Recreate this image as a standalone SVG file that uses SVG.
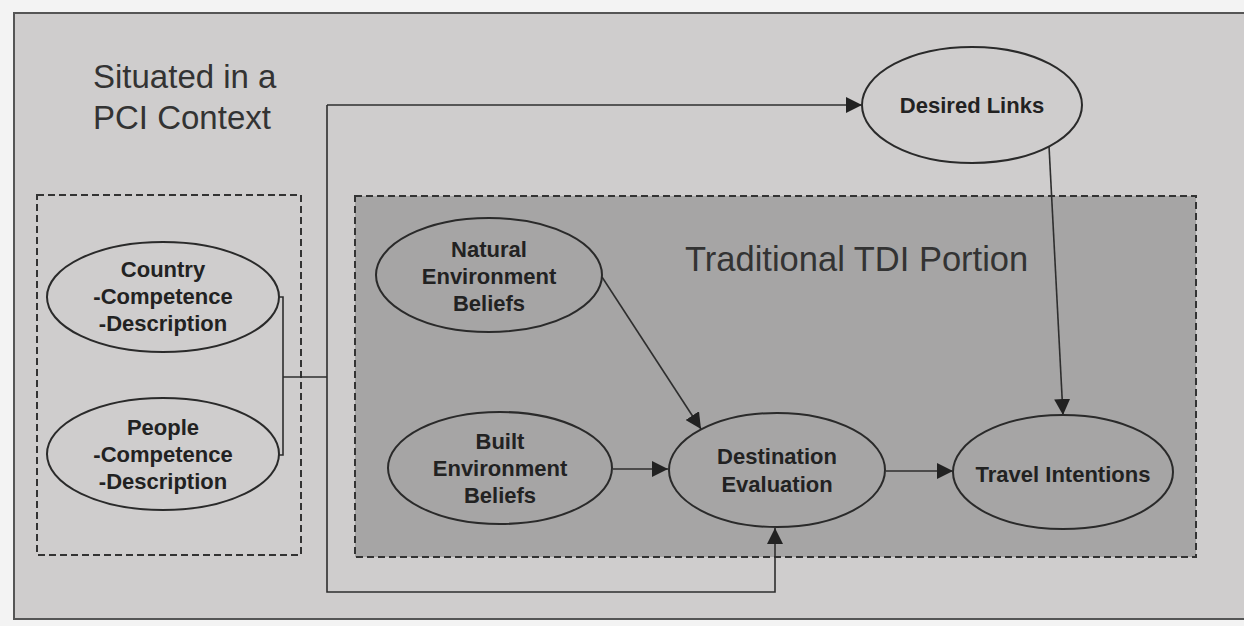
<svg xmlns="http://www.w3.org/2000/svg" width="1244" height="626" viewBox="0 0 1244 626">
  <defs>
    <marker id="arrow" viewBox="0 0 16 16" refX="16" refY="8" markerWidth="16" markerHeight="16" markerUnits="userSpaceOnUse" orient="auto">
      <path d="M0,0 L16,8 L0,16 Z" fill="#222"/>
    </marker>
    <style>
      .node { fill: none; stroke: #2a2a2a; stroke-width: 2; }
      .lbl { font-family: "Liberation Sans", Arial, sans-serif; font-weight: bold; font-size: 22px; fill: #222; text-anchor: middle; }
      .title { font-family: "Liberation Sans", Arial, sans-serif; font-size: 33px; fill: #333; }
      .edge { fill: none; stroke: #2e2e2e; stroke-width: 1.6; }
      .group { stroke: #333; stroke-width: 2; stroke-dasharray: 7 4; }
    </style>
  </defs>

  <!-- page and outer frame -->
  <rect x="0" y="0" width="1244" height="626" fill="#f3f3f3"/>
  <rect x="14" y="13" width="1240" height="606" fill="#cfcdcd" stroke="#555" stroke-width="2"/>

  <!-- grouping frames -->
  <rect id="pci-group" class="group" x="37" y="195" width="264" height="360" fill="none"/>
  <rect id="tdi-group" class="group" x="355" y="196" width="841" height="361" fill="#a6a5a5"/>

  <text class="title" x="93" y="88">Situated in a</text>
  <text class="title" x="93" y="129">PCI Context</text>
  <text class="title" x="685" y="271" style="font-size:34.5px">Traditional TDI Portion</text>

  <!-- connectors -->
  <g id="connectors">
    <polyline class="edge" points="279,297 283,297 283,455 279,455"/>
    <line class="edge" x1="283" y1="377" x2="327" y2="377"/>
    <polyline class="edge" points="327,105 327,592 775,592 775,528" marker-end="url(#arrow)"/>
    <line class="edge" x1="327" y1="105" x2="862" y2="105" marker-end="url(#arrow)"/>
    <line class="edge" x1="1049" y1="146" x2="1063" y2="415" marker-end="url(#arrow)"/>
    <line class="edge" x1="602" y1="277" x2="701" y2="429" marker-end="url(#arrow)"/>
    <line class="edge" x1="613" y1="469" x2="668" y2="469" marker-end="url(#arrow)"/>
    <line class="edge" x1="886" y1="471" x2="953" y2="471" marker-end="url(#arrow)"/>
  </g>

  <g id="country">
    <ellipse class="node" cx="163" cy="297" rx="116" ry="55"/>
    <text class="lbl" x="163" y="277">Country</text>
    <text class="lbl" x="163" y="304">-Competence</text>
    <text class="lbl" x="163" y="331">-Description</text>
  </g>

  <g id="people">
    <ellipse class="node" cx="163" cy="454" rx="116" ry="56"/>
    <text class="lbl" x="163" y="435">People</text>
    <text class="lbl" x="163" y="462">-Competence</text>
    <text class="lbl" x="163" y="489">-Description</text>
  </g>

  <g id="natural-env">
    <ellipse class="node" cx="489" cy="275" rx="113" ry="57"/>
    <text class="lbl" x="489" y="257">Natural</text>
    <text class="lbl" x="489" y="284">Environment</text>
    <text class="lbl" x="489" y="311">Beliefs</text>
  </g>

  <g id="built-env">
    <ellipse class="node" cx="500" cy="468" rx="112" ry="56"/>
    <text class="lbl" x="500" y="449">Built</text>
    <text class="lbl" x="500" y="476">Environment</text>
    <text class="lbl" x="500" y="503">Beliefs</text>
  </g>

  <g id="destination-evaluation">
    <ellipse class="node" cx="777" cy="470" rx="108" ry="57"/>
    <text class="lbl" x="777" y="464">Destination</text>
    <text class="lbl" x="777" y="492">Evaluation</text>
  </g>

  <g id="travel-intentions">
    <ellipse class="node" cx="1063" cy="472" rx="110" ry="57"/>
    <text class="lbl" x="1063" y="482">Travel Intentions</text>
  </g>

  <g id="desired-links">
    <ellipse class="node" cx="972" cy="105" rx="110" ry="58"/>
    <text class="lbl" x="972" y="113">Desired Links</text>
  </g>
</svg>
